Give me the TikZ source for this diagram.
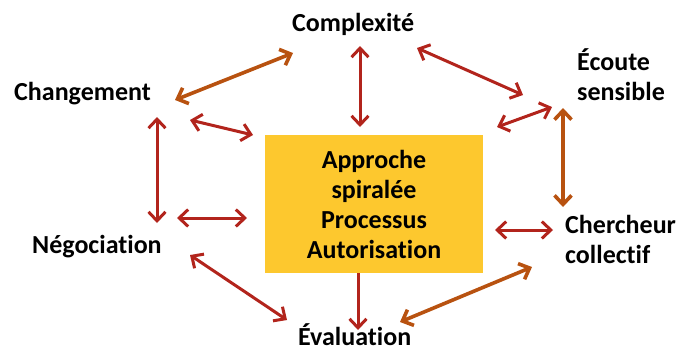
\documentclass[tikz,border=0pt]{standalone}
\usepackage{fontspec}
\setmainfont{Carlito}[Ligatures=NoCommon]
\usetikzlibrary{arrows.meta}
\definecolor{arrred}{RGB}{178,36,28}
\definecolor{arrbrown}{RGB}{184,82,16}
\definecolor{boxgold}{RGB}{253,200,46}
\begin{document}
\begin{tikzpicture}[x=1pt,y=-1pt,
  lbl/.style={font=\fontsize{26}{30}\selectfont\bfseries, inner sep=0pt, text=black, align=left},
  tipr/.tip={Straight Barb[length=9pt,width=17pt]},
  link/.style={tipr-tipr, line width=3pt, arrred},
  blink/.style={tipr-tipr, line width=3.6pt, arrbrown},
  onelink/.style={-tipr, line width=3pt, arrred},
  centre/.style={fill=boxgold, inner sep=0pt, minimum width=218pt, minimum height=138pt,
    font=\fontsize{26}{30}\selectfont\bfseries, align=center}
]
\useasboundingbox (0,0) rectangle (676,351);
\node[centre] (box) at (374,204) {Approche\\spiralée\\Processus\\Autorisation};
\node[lbl, anchor=base west] (comp) at (292,31) {Complexité};
\node[lbl, anchor=base west] (chg) at (14,100) {Changement};
\node[lbl, anchor=base west] (ecoute) at (577,100) {Écoute\\sensible};
\node[lbl, anchor=base west] (cherch) at (565,263) {Chercheur\\collectif};
\node[lbl, anchor=base west] (nego) at (32,253) {Négociation};
\node[lbl, anchor=base west] (eval) at (298,345) {Évaluation};

\coordinate (a1) at (175,100); \coordinate (b1) at (293,53);
\coordinate (a2) at (360,46);  \coordinate (b2) at (360,127);
\coordinate (a3) at (417,48);  \coordinate (b3) at (523,95);
\coordinate (a4) at (190,120); \coordinate (b4) at (253,135);
\coordinate (a5) at (497,127); \coordinate (b5) at (552,107);
\coordinate (a6) at (563,108); \coordinate (b6) at (563,207);
\coordinate (a7) at (157,117); \coordinate (b7) at (157,223);
\coordinate (a8) at (177,218); \coordinate (b8) at (247,218);
\coordinate (a9) at (495,230); \coordinate (b9) at (553,230);
\coordinate (a10) at (190,255); \coordinate (b10) at (287,320);
\coordinate (a11) at (358,273); \coordinate (b11) at (358,330);
\coordinate (a12) at (400,322); \coordinate (b12) at (532,267);

\draw[blink] (a1) -- (b1);
\draw[link] (a2) -- (b2);
\draw[link] (a3) -- (b3);
\draw[link] (a4) -- (b4);
\draw[link] (a5) -- (b5);
\draw[blink] (a6) -- (b6);
\draw[link] (a7) -- (b7);
\draw[link] (a8) -- (b8);
\draw[link] (a9) -- (b9);
\draw[link] (a10) -- (b10);
\draw[onelink] (a11) -- (b11);
\draw[blink] (a12) -- (b12);
\end{tikzpicture}
\end{document}
